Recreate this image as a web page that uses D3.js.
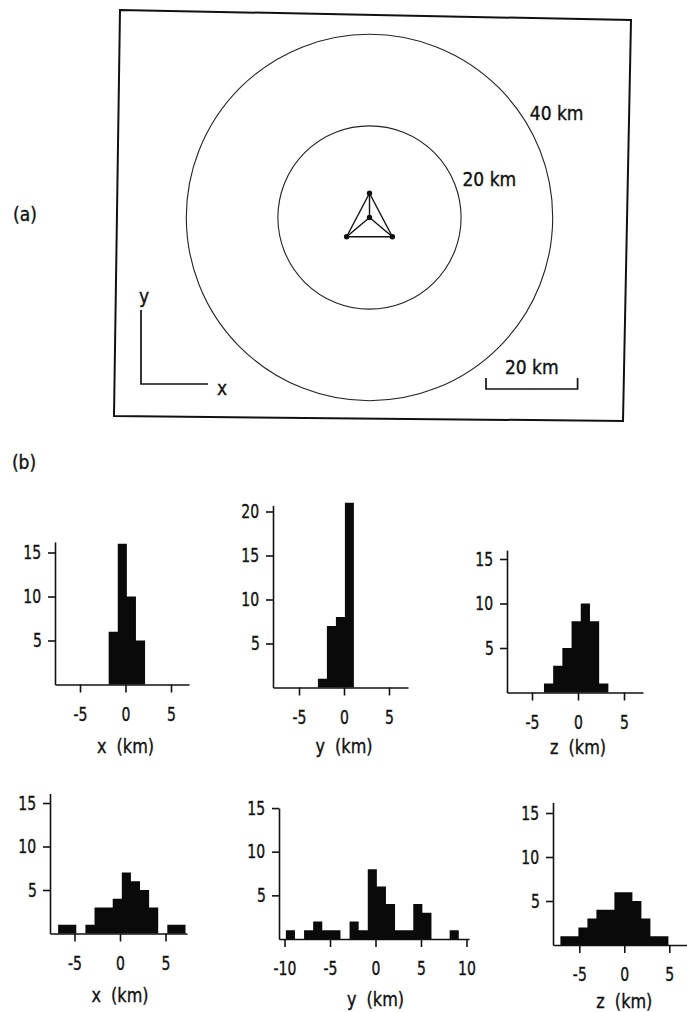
<!DOCTYPE html>
<html>
<head>
<meta charset="utf-8">
<script src="https://cdn.jsdelivr.net/npm/d3@7"></script>
<style>
  body { margin: 0; background: #fff; }
  svg text {
    font-family: "Liberation Sans Narrow", "DejaVu Sans Condensed", sans-serif;
    font-size: 19px; fill: #111; stroke: #111; stroke-width: 0.35px; white-space: pre;
    transform-box: fill-box; transform-origin: center;
  }
  svg .tick text { transform: scaleX(0.82); }
  svg text.title { transform: scaleX(0.94); }
</style>
</head>
<body>
<div class="canvas"></div>
<script>
// ---- (a) network, in km
const rings = [20, 40]
const ringLabels = ['20 km', '40 km']
const stations = [[0, 0], [0, 5.3], [-5, -4.2], [5, -4.2]]
const links = [[1, 2], [2, 3], [3, 1], [0, 1], [0, 2], [0, 3]]
const scaleBarKm = 20

// ---- (b) histograms: left edge of first 1 km bin, then counts
const xTopStart = -1.85
const xTopCounts = [6, 16, 10, 5]
const yTopStart = -2.9
const yTopCounts = [1, 7, 8, 21]
const zTopStart = -3.7
const zTopCounts = [1, 3, 5, 8, 10, 8, 1]
const xBotStart = -6.8
const xBotCounts = [1, 1, 0, 1, 3, 3, 4, 7, 6, 5, 3, 0, 1, 1]
const yBotStart = -9.85
const yBotCounts = [1, 0, 1, 2, 1, 1, 0, 2, 1, 8, 6, 4, 1, 1, 4, 3, 0, 0, 1]
const zBotStart = -7.1
const zBotCounts = [1, 1, 2, 3, 4, 4, 6, 6, 5, 3, 1, 1]

const kmTicks = [-5, 0, 5]
const kmTicksWide = [-10, -5, 0, 5, 10]
const countTicks = [5, 10, 15]
const countTicksTall = [5, 10, 15, 20]

const svg = d3.select('.canvas')
  .append('svg')
  .attr('width', 687)
  .attr('height', 1012)

// ================= panel (a)
const center = { x: 369.5, y: 217.5 }
const pxPerKm = 4.58
const kx = d3.scaleLinear().domain([0, 1]).range([center.x, center.x + pxPerKm])
const ky = d3.scaleLinear().domain([0, 1]).range([center.y, center.y - pxPerKm])

const pa = svg.append('g')

// frame - the scan is a little skewed, so corners are given directly
const frame = [[120, 10], [631, 20], [623, 421], [114, 416]]
pa.append('path')
  .attr('d', d3.line()(frame) + 'Z')
  .attr('fill', 'none')
  .attr('stroke', '#111')
  .attr('stroke-width', 2)

pa.selectAll('circle.ring')
  .data(rings)
  .enter().append('circle')
    .attr('class', 'ring')
    .attr('cx', kx(0))
    .attr('cy', ky(0))
    .attr('r', d => kx(d) - kx(0))
    .attr('fill', 'none')
    .attr('stroke', '#222')
    .attr('stroke-width', 1.1)

// ring labels, placed in km
const ringLabelPos = [[20.3, 8.4], [35, 22.8]]
pa.selectAll('text.ringlab')
  .data(ringLabels)
  .enter().append('text')
    .attr('class', 'ringlab')
    .attr('x', (d, i) => kx(ringLabelPos[i][0]))
    .attr('y', (d, i) => ky(ringLabelPos[i][1]))
    .attr('dy', '0.35em')
    .text(d => d)

// station network
pa.selectAll('line.link')
  .data(links)
  .enter().append('line')
    .attr('class', 'link')
    .attr('x1', d => kx(stations[d[0]][0]))
    .attr('y1', d => ky(stations[d[0]][1]))
    .attr('x2', d => kx(stations[d[1]][0]))
    .attr('y2', d => ky(stations[d[1]][1]))
    .attr('stroke', '#111')
    .attr('stroke-width', 1.4)

pa.selectAll('circle.sta')
  .data(stations)
  .enter().append('circle')
    .attr('class', 'sta')
    .attr('cx', d => kx(d[0]))
    .attr('cy', d => ky(d[1]))
    .attr('r', 2.7)
    .attr('fill', '#111')

// x / y direction axes
pa.append('path')
  .attr('d', 'M141,310 V384 H208')
  .attr('fill', 'none').attr('stroke', '#111').attr('stroke-width', 1.7)
pa.append('text').attr('x', 144).attr('y', 296).attr('text-anchor', 'middle').attr('dy', '0.35em').text('y')
pa.append('text').attr('x', 222).attr('y', 388).attr('text-anchor', 'middle').attr('dy', '0.35em').text('x')

// scale bar
const bar = { x: 486, y: 389, tick: 11 }
const barLen = kx(scaleBarKm) - kx(0)
pa.append('path')
  .attr('d', `M${bar.x},${bar.y - bar.tick} V${bar.y} H${bar.x + barLen} V${bar.y - bar.tick}`)
  .attr('fill', 'none')
  .attr('stroke', '#111')
  .attr('stroke-width', 1.7)
pa.append('text')
  .attr('x', bar.x + barLen / 2).attr('y', 367)
  .attr('text-anchor', 'middle').attr('dy', '0.35em')
  .text(`${scaleBarKm} km`)

svg.append('text').attr('x', 25).attr('y', 214).attr('text-anchor', 'middle').attr('dy', '0.35em').text('(a)')
svg.append('text').attr('x', 24).attr('y', 462).attr('text-anchor', 'middle').attr('dy', '0.35em').text('(b)')

// ================= panel (b)
const panels = [
  { start: xTopStart, counts: xTopCounts, ticks: kmTicks, yTicks: countTicks, title: 'x  (km)',
    left: 55, right: 189, zero: 125.5, ppk: 9.1, base: 684.5, ppc: 8.8, yMax: 16.2, titleY: 746 },
  { start: yTopStart, counts: yTopCounts, ticks: kmTicks, yTicks: countTicksTall, title: 'y  (km)',
    left: 273, right: 408, zero: 344, ppk: 9.0, base: 687.5, ppc: 8.8, yMax: 20.7, titleY: 746 },
  { start: zTopStart, counts: zTopCounts, ticks: kmTicks, yTicks: countTicks, title: 'z  (km)',
    left: 507, right: 643, zero: 578, ppk: 9.2, base: 692.5, ppc: 8.9, yMax: 16, titleY: 747 },
  { start: xBotStart, counts: xBotCounts, ticks: kmTicks, yTicks: countTicks, title: 'x  (km)',
    left: 50, right: 187, zero: 120, ppk: 9.1, base: 933.5, ppc: 8.7, yMax: 16.1, titleY: 995 },
  { start: yBotStart, counts: yBotCounts, ticks: kmTicksWide, yTicks: countTicks, title: 'y  (km)',
    left: 279, right: 469, zero: 375.5, ppk: 9.1, base: 939, ppc: 8.73, yMax: 15, titleY: 999 },
  { start: zBotStart, counts: zBotCounts, ticks: kmTicks, yTicks: countTicks, title: 'z  (km)',
    left: 553, right: 687, zero: 624.3, ppk: 9.0, base: 945, ppc: 8.8, yMax: 16.2, titleY: 1001 }
]

panels.forEach(p => {
  const x = d3.scaleLinear()
    .domain([(p.left - p.zero) / p.ppk, (p.right - p.zero) / p.ppk])
    .range([p.left, p.right])
  const y = d3.scaleLinear()
    .domain([0, p.yMax])
    .range([p.base, p.base - p.yMax * p.ppc])

  const g = svg.append('g')

  // one path per histogram so neighbouring bars fuse without seams
  const bins = p.counts.map((c, i) => ({ x0: p.start + i, x1: p.start + i + 1, n: c }))
    .filter(b => b.n > 0)
  const hp = d3.path()
  bins.forEach(b => hp.rect(x(b.x0), y(b.n), x(b.x1) - x(b.x0), y(0) - y(b.n)))
  g.append('path')
    .attr('d', hp.toString())
    .attr('fill', '#0a0a0a')

  const xAxis = d3.axisBottom(x)
    .tickValues(p.ticks)
    .tickFormat(d => String(d))
    .tickSize(8)
    .tickSizeOuter(0)
    .tickPadding(15)
  const yAxis = d3.axisLeft(y)
    .tickValues(p.yTicks)
    .tickFormat(d => String(d))
    .tickSize(7)
    .tickSizeOuter(0)
    .tickPadding(5)

  const gx = g.append('g').attr('transform', `translate(0,${p.base})`).call(xAxis)
  const gy = g.append('g').attr('transform', `translate(${p.left},0)`).call(yAxis)

  ;[gx, gy].forEach(a => {
    a.selectAll('path, line').attr('stroke', '#111').attr('stroke-width', 1.6)
    a.selectAll('text').attr('font-family', null).attr('font-size', null).attr('fill', '#111')
  })

  g.append('text')
    .attr('class', 'title')
    .attr('x', x(0))
    .attr('y', p.titleY)
    .attr('text-anchor', 'middle')
    .attr('dy', '0.35em')
    .text(p.title)
})
</script>
</body>
</html>
